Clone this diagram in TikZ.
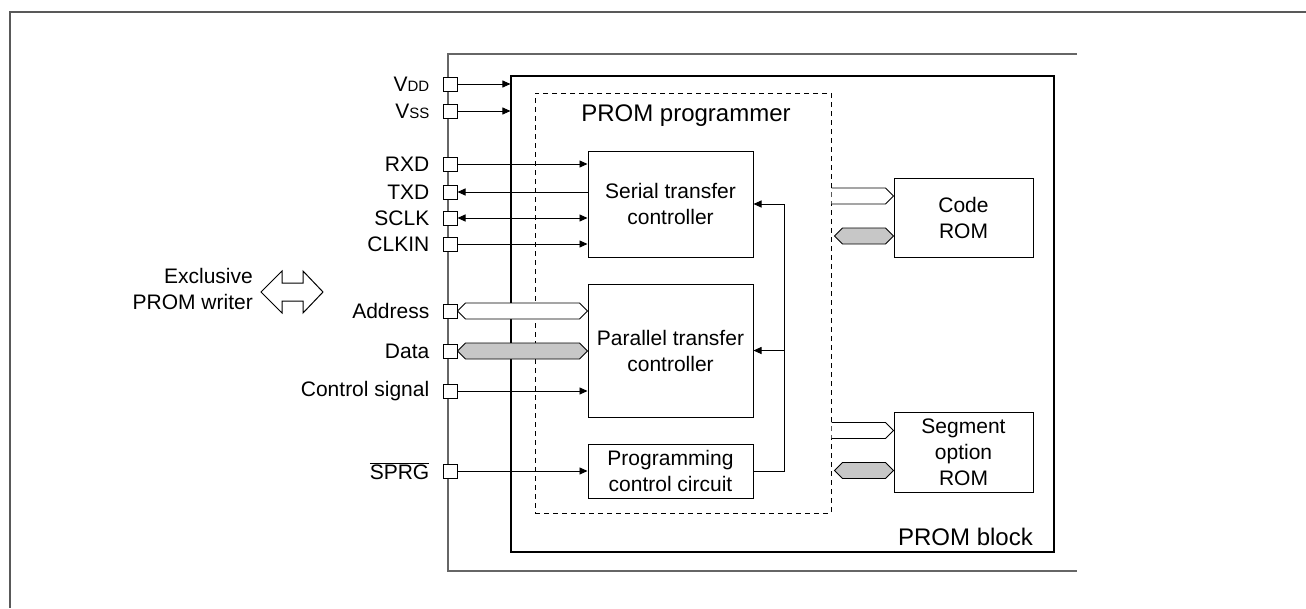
\documentclass[tikz,border=0pt]{standalone}
\usepackage{fontspec}
\setmainfont{Liberation Sans}
\usetikzlibrary{arrows.meta,calc}
\newcommand{\smc}[1]{{\fontsize{15}{15}\selectfont #1}}
\newcommand{\dbus}[3]{%
  \draw[busline, fill=#3] (#1) -- ($(#1)+(8,-8)$) -- ($(#2)+(-8,-8)$) -- (#2) -- ($(#2)+(-8,8)$) -- ($(#1)+(8,8)$) -- cycle;}
\newcommand{\sbus}[2]{%
  \draw[busline, fill=white] ($(#1)+(0,-8)$) -- ($(#2)+(-8,-8)$) -- (#2) -- ($(#2)+(-8,8)$) -- ($(#1)+(0,8)$);}
\begin{document}
\begin{tikzpicture}[x=1pt,y=-1pt,
  txt/.style={font=\fontsize{21}{26}\selectfont, inner sep=0pt},
  bigtxt/.style={font=\fontsize{24}{28}\selectfont, inner sep=0pt},
  blk/.style={draw, line width=1pt, align=center, inner sep=0pt, font=\fontsize{21}{26}\selectfont},
  pinbox/.style={draw, line width=1pt, fill=white, minimum size=14pt, inner sep=0pt},
  lbl/.style={txt, anchor=east},
  wire/.style={line width=0.9pt},
  arr/.style={wire, -{Triangle[length=8pt,width=7pt]}},
  darr/.style={wire, {Triangle[length=8pt,width=7pt]}-{Triangle[length=8pt,width=7pt]}},
  busline/.style={line width=0.8pt, line join=miter},
]
\useasboundingbox (0,0) rectangle (1306,608);
% outer frame
\draw[line width=2pt, black!65] (1306,12) -- (10,12) -- (10,608);
% chip outline
\draw[line width=1.5pt, black!60] (1077,54) -- (448,54) -- (448,571) -- (1077,571);
% PROM block
\node[draw, line width=1.1pt, minimum width=543pt, minimum height=476pt, inner sep=0pt] (blk) at (782.5,314) {};
\node[bigtxt, anchor=east] (blklbl) at (1033,537) {PROM block};
% PROM programmer (dashed)
\node[draw, line width=1pt, dash pattern=on 5pt off 4pt, minimum width=296pt, minimum height=420pt, inner sep=0pt] (pp) at (683,303) {};
\node[bigtxt] (pplbl) at (686,116) {PROM programmer};
% blocks
\node[blk, minimum width=165pt, minimum height=106pt] (ser) at (670.5,204) {Serial transfer\\controller};
\node[blk, minimum width=165pt, minimum height=133pt] (par) at (670.5,350.5) {Parallel transfer\\controller};
\node[blk, minimum width=165pt, minimum height=54pt] (prg) at (670.5,471) {Programming\\control circuit};
\node[blk, minimum width=139pt, minimum height=79pt] (code) at (963.5,217.5) {Code\\ROM};
\node[blk, minimum width=139pt, minimum height=80pt] (seg) at (963.5,452) {Segment\\option\\ROM};
% pins
\node[pinbox] (vdd) at (450,84) {};
\node[pinbox] (vss) at (450,111) {};
\node[pinbox] (rxd) at (450,164) {};
\node[pinbox] (txd) at (450,192) {};
\node[pinbox] (sclk) at (450,218) {};
\node[pinbox] (clkin) at (450,244) {};
\node[pinbox] (addr) at (450,311) {};
\node[pinbox] (data) at (450,351) {};
\node[pinbox] (ctrl) at (450,391) {};
\node[pinbox] (sprg) at (450,471) {};
% pin labels
\node[lbl] (lvdd) at ($(vdd.west)+(-13,0)$) {V\smc{DD}};
\node[lbl] (lvss) at ($(vss.west)+(-13,0)$) {V\smc{SS}};
\node[lbl] (lrxd) at ($(rxd.west)+(-13,0)$) {RXD};
\node[lbl] (ltxd) at ($(txd.west)+(-13,0)$) {TXD};
\node[lbl] (lsclk) at ($(sclk.west)+(-13,0)$) {SCLK};
\node[lbl] (lclkin) at ($(clkin.west)+(-13,0)$) {CLKIN};
\node[lbl] (laddr) at ($(addr.west)+(-13,0)$) {Address};
\node[lbl] (ldata) at ($(data.west)+(-13,0)$) {Data};
\node[lbl] (lctrl) at ($(ctrl.west)+(-13,0)$) {Control signal};
\node[lbl] (lsprg) at ($(sprg.west)+(-13,0)$) {$\overline{\hbox{SPRG}}$};
% exclusive PROM writer
\node[txt, align=right, anchor=east] (wrlbl) at (253,289) {Exclusive\\PROM writer};
\coordinate (wr) at (292,292);
\draw[line width=1pt, fill=white, line join=miter]
  ($(wr)+(-31,0)$) -- ($(wr)+(-10,-21)$) -- ($(wr)+(-10,-9)$) -- ($(wr)+(11,-9)$) -- ($(wr)+(11,-21)$)
  -- ($(wr)+(31,0)$) -- ($(wr)+(11,21)$) -- ($(wr)+(11,9)$) -- ($(wr)+(-10,9)$) -- ($(wr)+(-10,21)$) -- cycle;
% power arrows
\draw[arr] (vdd.east) -- (vdd -| blk.west);
\draw[arr] (vss.east) -- (vss -| blk.west);
% serial signals
\draw[arr] (rxd.east) -- (rxd -| ser.west);
\draw[arr] (txd -| ser.west) -- (txd.east);
\draw[darr] (sclk.east) -- (sclk -| ser.west);
\draw[arr] (clkin.east) -- (clkin -| ser.west);
% parallel buses
\coordinate (aend) at (addr -| par.west);
\coordinate (dend) at (data -| par.west);
\dbus{addr.east}{aend}{white}
\dbus{data.east}{dend}{black!22}
\draw[arr] (ctrl.east) -- (ctrl -| par.west);
\draw[arr] (sprg.east) -- (sprg -| prg.west);
% feedback from programming control circuit
\coordinate (fb) at ($(prg.east)+(31,0)$);
\draw[wire] (prg.east) -- (fb) -- (fb |- ser.east);
\draw[arr] (fb |- ser.east) -- (ser.east);
\draw[arr] (fb |- par.east) -- (par.east);
% ROM buses
\coordinate (cw) at ($(code.west)+(0,-21.5)$);
\coordinate (cg) at ($(code.west)+(0,18.5)$);
\coordinate (sw) at ($(seg.west)+(0,-21.5)$);
\coordinate (sg) at ($(seg.west)+(0,18.5)$);
\sbus{pp.east |- cw}{cw}
\dbus{$(pp.east |- cg)+(3,0)$}{cg}{black!22}
\sbus{pp.east |- sw}{sw}
\dbus{$(pp.east |- sg)+(3,0)$}{sg}{black!22}
\end{tikzpicture}
\end{document}
